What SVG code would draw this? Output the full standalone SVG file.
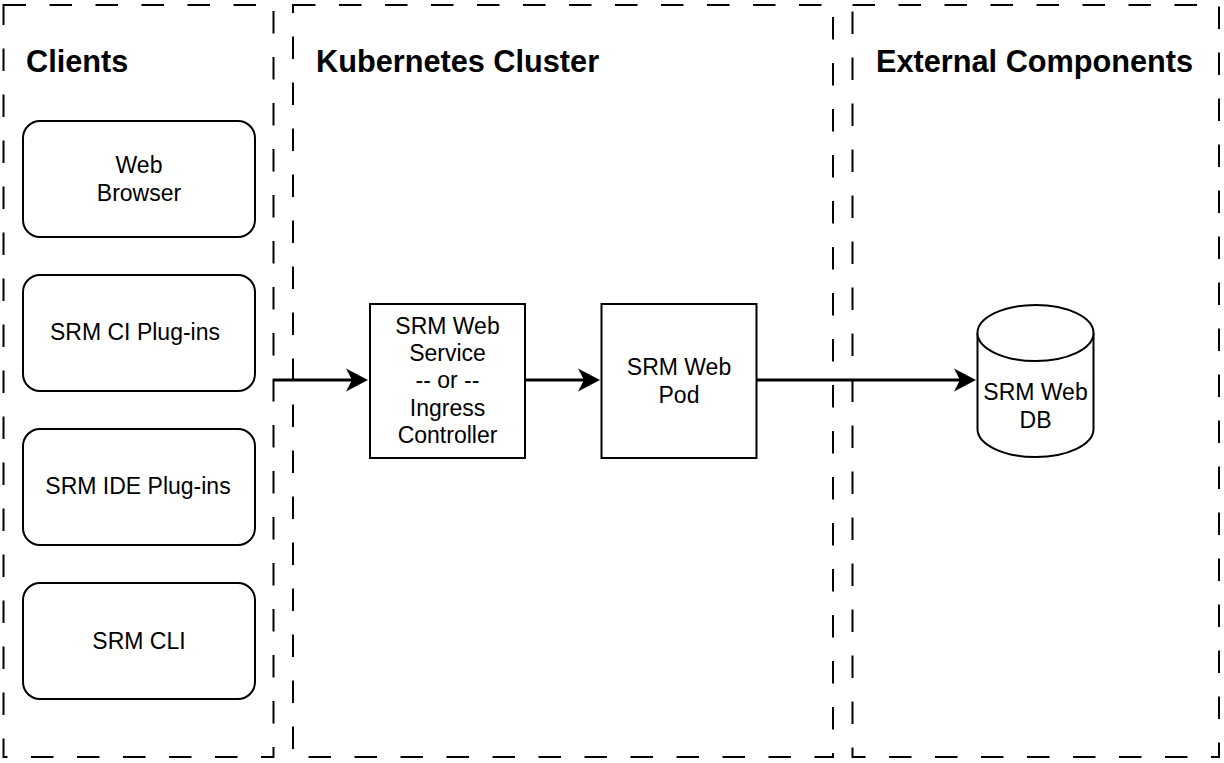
<svg xmlns="http://www.w3.org/2000/svg" width="1224" height="763" viewBox="0 0 1224 763">
<style>
.panel{fill:none;stroke:#000;stroke-width:2;stroke-dasharray:22.5 23.5}
.box{fill:#fff;stroke:#000;stroke-width:2}
.title{font-family:"Liberation Sans",Arial,sans-serif;font-weight:bold;font-size:30.7px;fill:#000}
.lbl{font-family:"Liberation Sans",Arial,sans-serif;font-size:23px;fill:#000;text-anchor:middle}
.conn{stroke:#000;stroke-width:3;fill:none}
</style>
<defs>
<marker id="arrow" markerUnits="userSpaceOnUse" markerWidth="24" markerHeight="24" viewBox="0 0 24 24" refX="12" refY="12" orient="auto">
<path d="M0,0.5 L22,12 L0,23.5 L6,12 Z" fill="#000"/>
</marker>
</defs>
<rect width="1224" height="763" fill="#fff"/>
<g id="panel-clients">
<rect class="panel" x="3.5" y="5" width="270" height="752"/>
<text class="title" x="26" y="72">Clients</text>
</g>
<g id="panel-kubernetes">
<rect class="panel" x="293" y="5" width="540" height="752"/>
<text class="title" x="316" y="72">Kubernetes Cluster</text>
</g>
<g id="panel-external">
<rect class="panel" x="852.5" y="5" width="366.5" height="752"/>
<text class="title" x="876" y="72">External Components</text>
</g>
<g id="node-web-browser">
<rect class="box" x="23" y="121" width="232" height="116" rx="17" ry="17"/>
<text class="lbl" x="139" y="173">Web</text>
<text class="lbl" x="139" y="201">Browser</text>
</g>
<g id="node-ci-plugins">
<rect class="box" x="23" y="275" width="232" height="116" rx="17" ry="17"/>
<text class="lbl" x="135" y="340">SRM CI Plug-ins</text>
</g>
<g id="node-ide-plugins">
<rect class="box" x="23" y="429" width="232" height="116" rx="17" ry="17"/>
<text class="lbl" x="138" y="494">SRM IDE Plug-ins</text>
</g>
<g id="node-cli">
<rect class="box" x="23" y="583" width="232" height="116" rx="17" ry="17"/>
<text class="lbl" x="139" y="649">SRM CLI</text>
</g>
<g id="node-service">
<rect class="box" x="370" y="304" width="155" height="154"/>
<text class="lbl" x="447.5" y="334">SRM Web</text>
<text class="lbl" x="447.5" y="361">Service</text>
<text class="lbl" x="447.5" y="388">-- or --</text>
<text class="lbl" x="447.5" y="416">Ingress</text>
<text class="lbl" x="447.5" y="443">Controller</text>
</g>
<g id="node-pod">
<rect class="box" x="601.5" y="304" width="155" height="154"/>
<text class="lbl" x="679" y="375">SRM Web</text>
<text class="lbl" x="679" y="403">Pod</text>
</g>
<g id="node-db">
<path class="box" d="M977.5,333 A58,28 0 0 1 1093.5,333 L1093.5,429 A58,28 0 0 1 977.5,429 Z"/>
<path class="box" fill="none" d="M977.5,333 A58,28 0 0 0 1093.5,333"/>
<text class="lbl" x="1035.5" y="400">SRM Web</text>
<text class="lbl" x="1035.5" y="428">DB</text>
</g>
<g id="connectors">
<line class="conn" x1="273" y1="380" x2="358" y2="380" marker-end="url(#arrow)"/>
<line class="conn" x1="525" y1="380" x2="590" y2="380" marker-end="url(#arrow)"/>
<line class="conn" x1="756.5" y1="380" x2="966" y2="380" marker-end="url(#arrow)"/>
</g>
</svg>
